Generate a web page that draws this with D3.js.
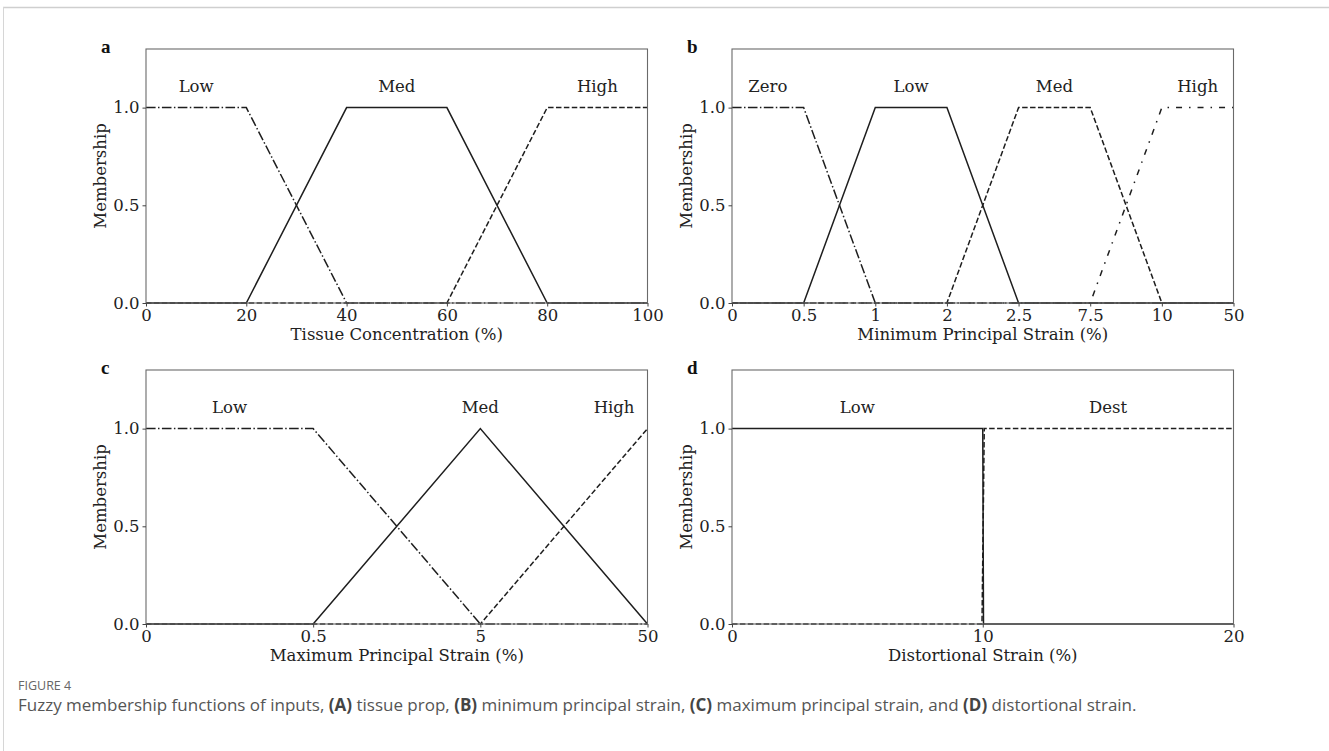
<!DOCTYPE html>
<html>
<head>
<meta charset="utf-8">
<script src="https://cdn.jsdelivr.net/npm/d3@7"></script>
<style>
  html, body { margin: 0; padding: 0; background: #fff; }
  svg { display: block; }
</style>
</head>
<body>
<svg id="chart" width="1329" height="751"></svg>
<script>
// ---------- DATA ----------
// Panel a: Tissue Concentration (%), linear axis
const aTicks = [0, 20, 40, 60, 80, 100];
const aLow  = [[0, 1], [20, 1], [40, 0], [100, 0]];
const aMed  = [[0, 0], [20, 0], [40, 1], [60, 1], [80, 0], [100, 0]];
const aHigh = [[0, 0], [60, 0], [80, 1], [100, 1]];
const aLabels = [["Low", 10], ["Med", 50], ["High", 90]];

// Panel b: Minimum Principal Strain (%), categorical (evenly spaced) axis
const bTicks = ["0", "0.5", "1", "2", "2.5", "7.5", "10", "50"];
const bZero = [["0", 1], ["0.5", 1], ["1", 0], ["50", 0]];
const bLow  = [["0", 0], ["0.5", 0], ["1", 1], ["2", 1], ["2.5", 0], ["50", 0]];
const bMed  = [["0", 0], ["2", 0], ["2.5", 1], ["7.5", 1], ["10", 0], ["50", 0]];
const bHigh = [["0", 0], ["7.5", 0], ["10", 1], ["50", 1]];
const bLabels = [["Zero", 0.5], ["Low", 2.5], ["Med", 4.5], ["High", 6.5]]; // tick-index positions

// Panel c: Maximum Principal Strain (%), categorical axis
const cTicks = ["0", "0.5", "5", "50"];
const cLow  = [["0", 1], ["0.5", 1], ["5", 0], ["50", 0]];
const cMed  = [["0", 0], ["0.5", 0], ["5", 1], ["50", 0]];
const cHigh = [["0", 0], ["5", 0], ["50", 1]];
const cLabels = [["Low", 0.5], ["Med", 2], ["High", 2.8]];

// Panel d: Distortional Strain (%), linear axis
const dTicks = [0, 10, 20];
const dLow  = [[0, 1], [10, 1], [10.03, 0], [20, 0]];
const dDest = [[0, 0], [9.97, 0], [10.06, 1], [20, 1]];
const dLabels = [["Low", 5], ["Dest", 15]];

const yTicks = [0, 0.5, 1.0];
const yMax = 1.3;

// ---------- STYLE ----------
const DASH = {
  solid: null,
  dashed: "5.5,2.4",
  dashdot: "9.6,2.4,1.5,2.4",
  loosedashdot: "6,7,1.5,7"
};
const serif = "'DejaVu Serif', serif";
const FS = "16.5px";
const svg = d3.select("#chart");

// frame lines
svg.append("line").attr("x1", 3).attr("x2", 1329).attr("y1", 7.5).attr("y2", 7.5)
  .attr("stroke", "#cfcfcf").attr("stroke-width", 1.5);
svg.append("line").attr("x1", 3.5).attr("x2", 3.5).attr("y1", 7).attr("y2", 751)
  .attr("stroke", "#d6d6d6").attr("stroke-width", 1);

const panels = [
  { tag: "a", left: 146, top: 49, kind: "linear", domain: [0, 100], ticks: aTicks,
    xlabel: "Tissue Concentration (%)",
    series: [[aLow, "dashdot"], [aHigh, "dashed"], [aMed, "solid"]], labels: aLabels },
  { tag: "b", left: 732, top: 49, kind: "cat", ticks: bTicks,
    xlabel: "Minimum Principal Strain (%)",
    series: [[bZero, "dashdot"], [bMed, "dashed"], [bHigh, "loosedashdot"], [bLow, "solid"]], labels: bLabels },
  { tag: "c", left: 146, top: 370, kind: "cat", ticks: cTicks,
    xlabel: "Maximum Principal Strain (%)",
    series: [[cLow, "dashdot"], [cHigh, "dashed"], [cMed, "solid"]], labels: cLabels },
  { tag: "d", left: 732, top: 370, kind: "linear", domain: [0, 20], ticks: dTicks,
    xlabel: "Distortional Strain (%)",
    series: [[dDest, "dashed"], [dLow, "solid"]], labels: dLabels }
];

const W = 501.5, H = 254;

panels.forEach(p => {
  const g = svg.append("g").attr("transform", `translate(${p.left},${p.top})`);
  let x, xAxis, toX;
  if (p.kind === "linear") {
    x = d3.scaleLinear().domain(p.domain).range([0, W]);
    xAxis = d3.axisBottom(x).tickValues(p.ticks).tickFormat(d3.format("d"));
    toX = v => x(v);
  } else {
    x = d3.scaleLinear().domain([0, p.ticks.length - 1]).range([0, W]);
    xAxis = d3.axisBottom(x).tickValues(d3.range(p.ticks.length)).tickFormat(i => p.ticks[i]);
    toX = v => x(p.ticks.indexOf(v));
  }
  const y = d3.scaleLinear().domain([0, yMax]).range([H, 0]);
  const yAxis = d3.axisLeft(y).tickValues(yTicks).tickFormat(d3.format(".1f"));

  // series
  const line = d3.line().x(d => toX(d[0])).y(d => y(d[1]));
  p.series.forEach(([data, style]) => {
    g.append("path").datum(data).attr("d", line)
      .attr("fill", "none").attr("stroke", "#1e1e1e").attr("stroke-width", 1.5)
      .attr("stroke-dasharray", DASH[style]);
  });

  // axes box
  g.append("rect").attr("x", 0).attr("y", 0).attr("width", W).attr("height", H)
    .attr("fill", "none").attr("stroke", "#6a6a6a").attr("stroke-width", 1.1);

  const gx = g.append("g").attr("transform", `translate(0,${H})`).call(xAxis.tickSize(3.5).tickPadding(2.5));
  const gy = g.append("g").call(yAxis.tickSize(3.5).tickPadding(3));
  [gx, gy].forEach(ax => {
    ax.select(".domain").remove();
    ax.selectAll(".tick line").attr("stroke", "#444").attr("stroke-width", 1);
    ax.selectAll(".tick text").attr("fill", "#222").style("font-family", serif).style("font-size", FS);
  });

  // axis labels
  g.append("text").attr("x", W / 2).attr("y", H + 37).attr("text-anchor", "middle")
    .style("font-family", serif).style("font-size", FS).attr("fill", "#222").text(p.xlabel);
  g.append("text").attr("transform", `translate(-40,${H / 2}) rotate(-90)`).attr("text-anchor", "middle")
    .style("font-family", serif).style("font-size", FS).attr("fill", "#222").text("Membership");

  // membership annotations
  p.labels.forEach(([t, v]) => {
    g.append("text").attr("x", x(v)).attr("y", y(1.08)).attr("text-anchor", "middle")
      .style("font-family", serif).style("font-size", FS).attr("fill", "#222").text(t);
  });

  // panel tag
  g.append("text").attr("x", -45).attr("y", 4).attr("text-anchor", "start")
    .style("font-family", "'Liberation Serif', serif").style("font-weight", "bold")
    .style("font-size", "19px").attr("fill", "#111").text(p.tag);
});

// caption
svg.append("text").attr("x", 18).attr("y", 690)
  .style("font-family", "'Open Sans', sans-serif").style("font-size", "12.5px")
  .attr("fill", "#666").text("FIGURE 4");
const cap = svg.append("text").attr("x", 18).attr("y", 711)
  .style("font-family", "'Open Sans', sans-serif").style("font-size", "17px").attr("fill", "#555");
const capParts = [
  ["Fuzzy membership functions of inputs, ", false], ["(A)", true], [" tissue prop, ", false],
  ["(B)", true], [" minimum principal strain, ", false], ["(C)", true],
  [" maximum principal strain, and ", false], ["(D)", true], [" distortional strain.", false]
];
capParts.forEach(([t, b]) => {
  cap.append("tspan").style("font-weight", b ? "bold" : "normal").attr("fill", b ? "#444" : "#555").text(t);
});
</script>
</body>
</html>
